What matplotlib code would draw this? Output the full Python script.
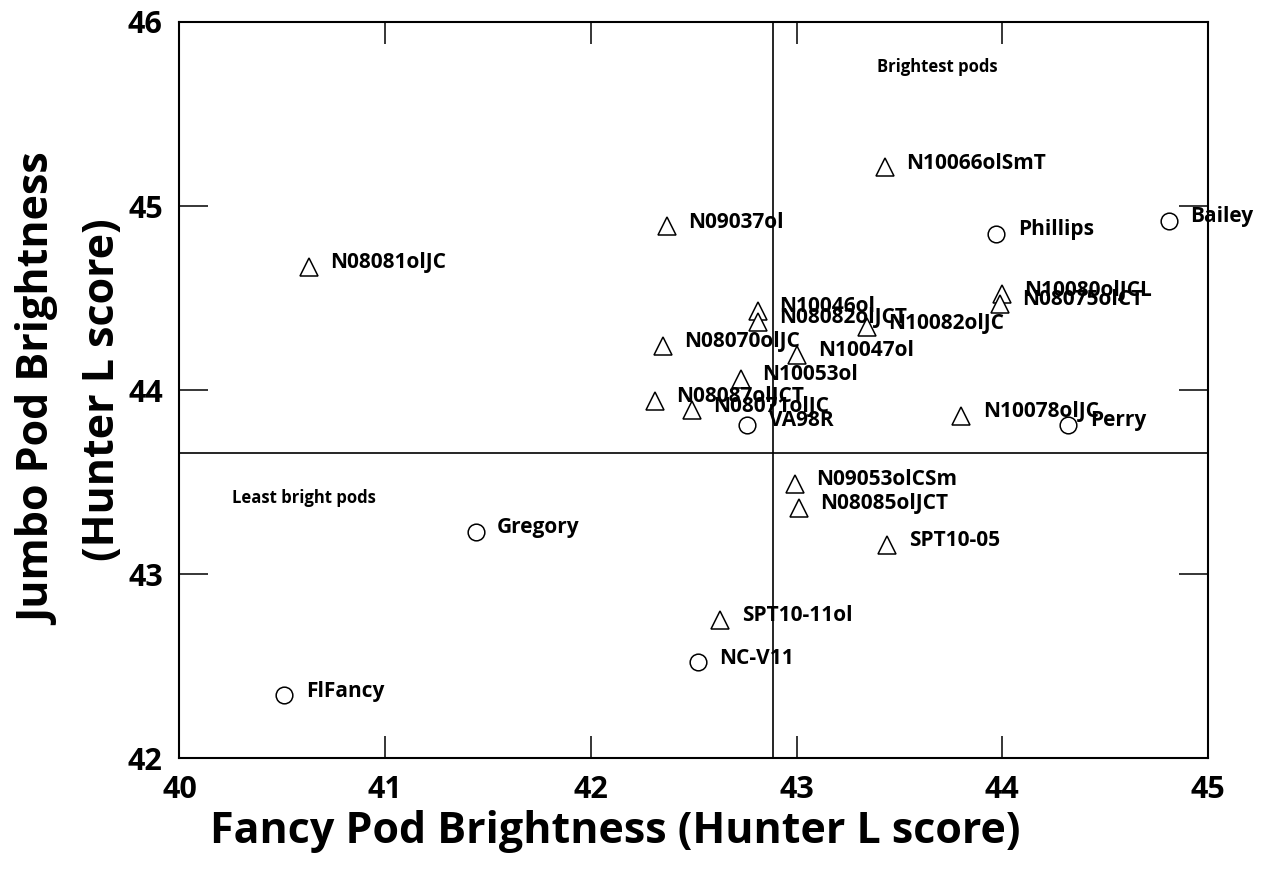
import numpy as np
import matplotlib
matplotlib.use("Agg")
import matplotlib.pyplot as plt

plt.rcParams['font.family'] = ['Open Sans', 'DejaVu Sans']
plt.rcParams['font.weight'] = 'bold'

# breeding lines (triangles)
line_names = ["N08081olJC", "N09037ol", "N10066olSmT", "N10046ol", "N08082olJCT",
              "N10082olJC", "N08070olJC", "N10047ol", "N10053ol", "N08087olJCT",
              "N08071olJC", "N10080olJCL", "N08075olCT", "N10078olJC", "N09053olCSm",
              "N08085olJCT", "SPT10-05", "SPT10-11ol"]
line_fancy = [40.63, 42.37, 43.43, 42.81, 42.81, 43.34, 42.35, 43.00, 42.73, 42.31,
              42.49, 44.00, 43.99, 43.80, 42.99, 43.01, 43.44, 42.63]
line_jumbo = [44.67, 44.89, 45.21, 44.43, 44.37, 44.34, 44.24, 44.19, 44.06, 43.94,
              43.89, 44.52, 44.47, 43.86, 43.49, 43.36, 43.16, 42.75]

# cultivars (circles)
cult_names = ["Bailey", "Phillips", "VA98R", "Perry", "Gregory", "NC-V11", "FlFancy"]
cult_fancy = [44.81, 43.97, 42.76, 44.32, 41.44, 42.52, 40.51]
cult_jumbo = [44.92, 44.85, 43.81, 43.81, 43.23, 42.52, 42.34]

fancy_ref = 42.885
jumbo_ref = 43.658

xticks = [40, 41, 42, 43, 44, 45]
yticks = [42, 43, 44, 45, 46]

fig = plt.figure(figsize=(12.64, 8.8), dpi=100)
ax = fig.add_axes([0.142, 0.1386, 0.8137, 0.8364])

ax.plot(line_fancy, line_jumbo, linestyle='none', marker='^', ms=12.5,
        mfc='white', mec='black', mew=1.1, zorder=3)
ax.plot(cult_fancy, cult_jumbo, linestyle='none', marker='o', ms=12,
        mfc='white', mec='black', mew=1.1, zorder=3)

for n, x, y in zip(line_names + cult_names, line_fancy + cult_fancy, line_jumbo + cult_jumbo):
    ax.annotate(n, (x, y), xytext=(15.5, -1), textcoords='offset points',
                ha='left', va='baseline', fontsize=15, fontweight='bold', zorder=4)

ax.axvline(fancy_ref, color='black', lw=1.2, zorder=1)
ax.axhline(jumbo_ref, color='black', lw=1.2, zorder=1)

ax.text(0.678, 0.9385, "Brightest pods", transform=ax.transAxes, fontsize=12,
        fontweight='bold', ha='left', va='center')
ax.text(0.0508, 0.353, "Least bright pods", transform=ax.transAxes, fontsize=12,
        fontweight='bold', ha='left', va='center')

ax.set_xlim(40, 45)
ax.set_ylim(42, 46)
ax.set_xticks(xticks)
ax.set_yticks(yticks)
ax.set_xticklabels([str(t) for t in xticks], fontsize=22, fontweight='bold')
ax.set_yticklabels([str(t) for t in yticks], fontsize=22, fontweight='bold')
ax.tick_params(axis='x', direction='in', length=16, width=1.1, top=True, pad=12)
ax.tick_params(axis='y', direction='in', length=21, width=1.1, right=True, pad=12)
for s in ax.spines.values():
    s.set_linewidth(1.5)

ax.set_xlabel("Fancy Pod Brightness (Hunter L score)", fontsize=31, fontweight='bold')
ax.xaxis.set_label_coords(0.4234, -0.071)
ax.set_ylabel("Jumbo Pod Brightness\n(Hunter L score)", fontsize=31, fontweight='bold',
              linespacing=1.6)
ax.yaxis.set_label_coords(-0.054, 0.5)

fig.savefig("out.png", dpi=100)
